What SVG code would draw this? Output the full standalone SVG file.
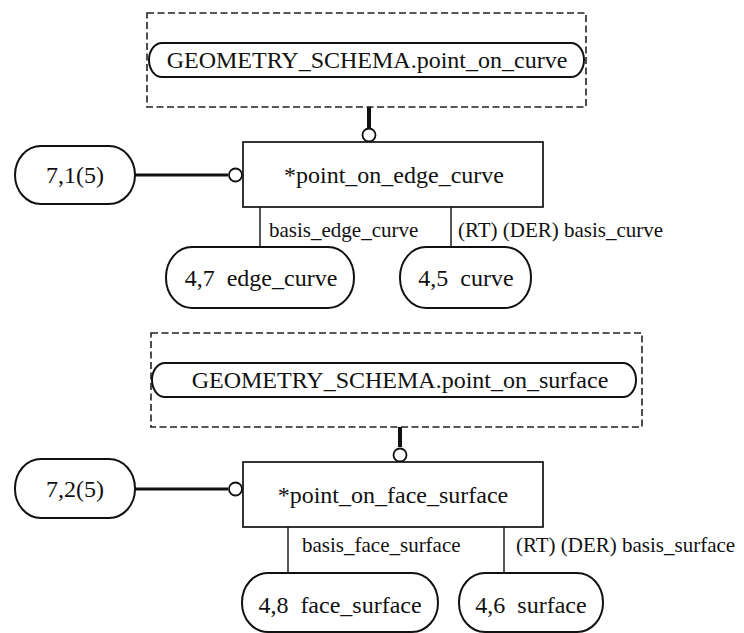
<svg xmlns="http://www.w3.org/2000/svg" width="744" height="633" viewBox="0 0 744 633">
<style>
.bg{fill:#ffffff}
.dash{fill:none;stroke:#222;stroke-width:1.6;stroke-dasharray:7,3.5}
.pill{fill:#fff;stroke:#111;stroke-width:2}
.box{fill:#fff;stroke:#111;stroke-width:1.7}
.thick{fill:none;stroke:#111;stroke-width:3}
.stub{fill:none;stroke:#111;stroke-width:4}
.thin{fill:none;stroke:#111;stroke-width:1.4}
.circ{fill:#fff;stroke:#111;stroke-width:1.8}
.t{font-family:"Liberation Serif","Times New Roman",serif;font-size:24px;fill:#111;text-anchor:middle}
.lbl{font-family:"Liberation Serif","Times New Roman",serif;font-size:21px;fill:#111}
</style>
<rect class="bg" x="0" y="0" width="744" height="633"/>

<g id="connectors">
  <line class="stub" x1="369" y1="107" x2="369" y2="128"/>
  <circle class="circ" cx="369" cy="135" r="6.5"/>
  <line class="thick" x1="135" y1="175" x2="228" y2="175"/>
  <circle class="circ" cx="235.5" cy="175" r="6.5"/>
  <line class="thin" x1="260" y1="207" x2="260" y2="247"/>
  <line class="thin" x1="451" y1="207" x2="451" y2="247"/>
  <text class="lbl" x="269" y="237">basis_edge_curve</text>
  <text class="lbl" x="458" y="237">(RT) (DER) basis_curve</text>

  <line class="stub" x1="400" y1="427" x2="400" y2="447"/>
  <circle class="circ" cx="400" cy="455" r="6.5"/>
  <line class="thick" x1="135" y1="489" x2="228" y2="489"/>
  <circle class="circ" cx="235.5" cy="489" r="6.5"/>
  <line class="thin" x1="288" y1="527" x2="288" y2="573"/>
  <line class="thin" x1="504" y1="527" x2="504" y2="573"/>
  <text class="lbl" x="302" y="552">basis_face_surface</text>
  <text class="lbl" x="516" y="552">(RT) (DER) basis_surface</text>
</g>

<g id="schema1">
  <rect class="dash" x="147" y="13" width="439" height="94"/>
  <path class="pill" d="M162,43 H571 A13,17 0 0 1 571,77 H162 A13,17 0 0 1 162,43 Z"/>
  <text class="t" x="367" y="68">GEOMETRY_SCHEMA.point_on_curve</text>
</g>

<g id="point_on_edge_curve">
  <rect class="box" x="243" y="142" width="300" height="65"/>
  <text class="t" x="394" y="183">*point_on_edge_curve</text>
</g>

<g id="ref71">
  <rect class="pill" x="15" y="146" width="120" height="58" rx="26" ry="29"/>
  <text class="t" x="75" y="183">7,1(5)</text>
</g>

<g id="edge_curve">
  <rect class="pill" x="166" y="247" width="188" height="61" rx="26" ry="30"/>
  <text class="t" x="261" y="286" xml:space="preserve">4,7  edge_curve</text>
</g>

<g id="curve">
  <rect class="pill" x="400" y="247" width="131" height="61" rx="26" ry="30"/>
  <text class="t" x="466" y="286" xml:space="preserve">4,5  curve</text>
</g>

<g id="schema2">
  <rect class="dash" x="151" y="333" width="491" height="94"/>
  <path class="pill" d="M165,363 H623 A13,17 0 0 1 623,397 H165 A13,17 0 0 1 165,363 Z"/>
  <text class="t" x="400" y="388">GEOMETRY_SCHEMA.point_on_surface</text>
</g>

<g id="point_on_face_surface">
  <rect class="box" x="243" y="462" width="300" height="65"/>
  <text class="t" x="393" y="503">*point_on_face_surface</text>
</g>

<g id="ref72">
  <rect class="pill" x="15" y="459" width="120" height="59" rx="26" ry="29"/>
  <text class="t" x="75" y="497">7,2(5)</text>
</g>

<g id="face_surface">
  <rect class="pill" x="242" y="573" width="196" height="59" rx="26" ry="29"/>
  <text class="t" x="340" y="613" xml:space="preserve">4,8  face_surface</text>
</g>

<g id="surface">
  <rect class="pill" x="459" y="573" width="144" height="59" rx="26" ry="29"/>
  <text class="t" x="531" y="613" xml:space="preserve">4,6  surface</text>
</g>
</svg>
